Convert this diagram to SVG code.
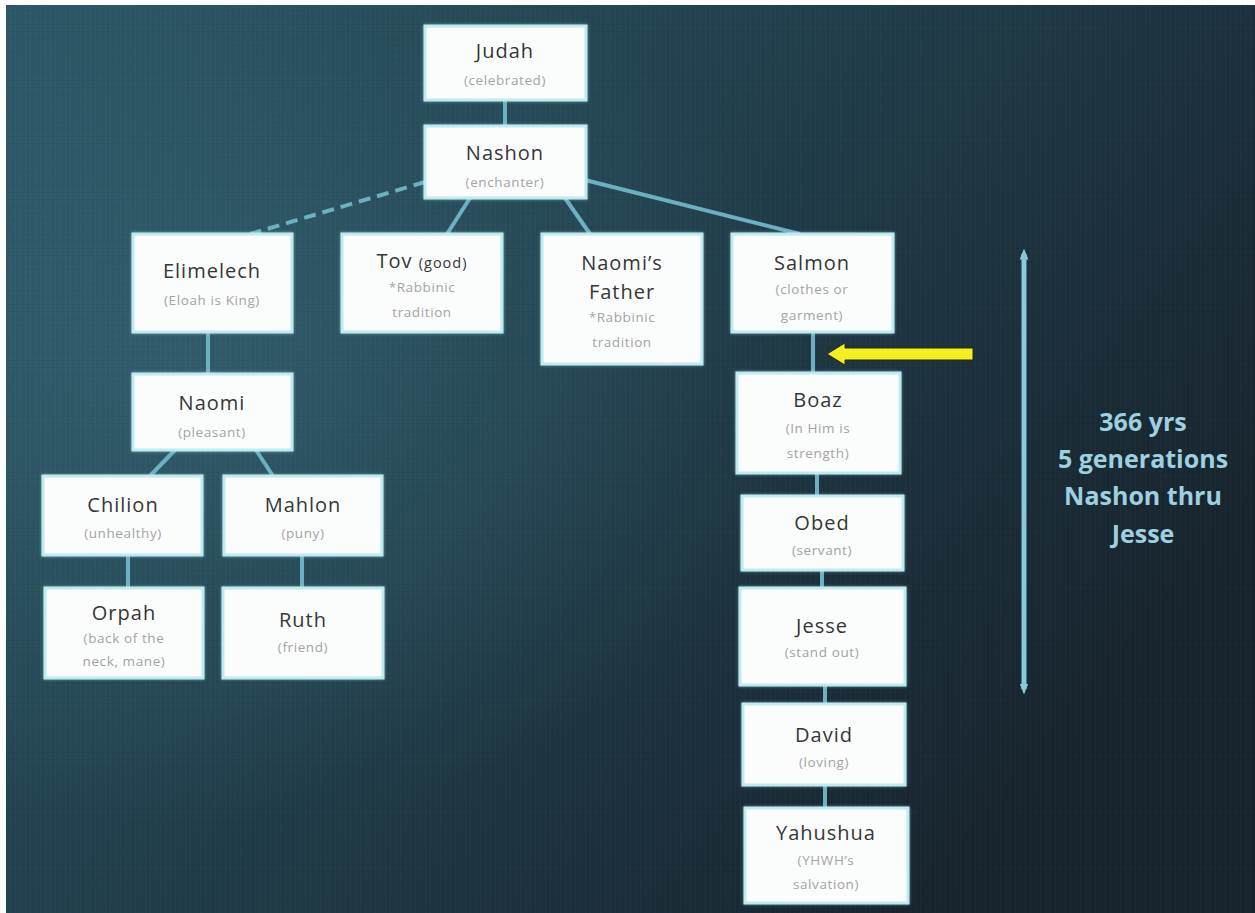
<svg xmlns="http://www.w3.org/2000/svg" width="1255" height="913" viewBox="0 0 1255 913">
  <defs>
    <linearGradient id="bg" x1="0" y1="0" x2="1" y2="0.6">
      <stop offset="0" stop-color="#2b5564"/>
      <stop offset="0.45" stop-color="#22414e"/>
      <stop offset="1" stop-color="#17232d"/>
    </linearGradient>
    <radialGradient id="glowbg" cx="0.15" cy="0.4" r="0.5">
      <stop offset="0" stop-color="#3f7283" stop-opacity="0.45"/>
      <stop offset="1" stop-color="#3f7283" stop-opacity="0"/>
    </radialGradient>
    <pattern id="tex" width="5" height="7" patternUnits="userSpaceOnUse">
      <rect x="0" y="0" width="1" height="7" fill="#ffffff" opacity="0.025"/>
      <rect x="0" y="3" width="5" height="1" fill="#000000" opacity="0.04"/>
    </pattern>
    <filter id="glow" x="-10%" y="-10%" width="120%" height="120%">
      <feGaussianBlur in="SourceAlpha" stdDeviation="1.8" result="b"/>
      <feFlood flood-color="#9fe3ee" flood-opacity="0.55"/>
      <feComposite in2="b" operator="in" result="g"/>
      <feMerge><feMergeNode in="g"/><feMergeNode in="SourceGraphic"/></feMerge>
    </filter>
    <marker id="dbl" viewBox="0 0 10 10" refX="5" refY="5" markerWidth="2.2" markerHeight="2.2" orient="auto-start-reverse">
      <path d="M0,1 L10,5 L0,9 Z" fill="#8cc8dc"/>
    </marker>
    <style>
      .box { fill: #fbfdfd; stroke: #bfeaf0; stroke-width: 3; filter: url(#glow); }
      .t { font-family: "Open Sans", "Liberation Sans", sans-serif; font-size: 20px; fill: #363636; text-anchor: middle; letter-spacing: 1px; }
      .s { font-family: "Open Sans", "Liberation Sans", sans-serif; font-size: 13.5px; fill: #a3a3a3; text-anchor: middle; letter-spacing: 0.6px; }
      .c { stroke: #6cb0c2; stroke-width: 4; fill: none; }
      .note { font-family: "Open Sans", "Liberation Sans", sans-serif; font-size: 25px; font-weight: bold; fill: #9fd0e0; text-anchor: middle; }
    </style>
  </defs>

  <rect x="0" y="0" width="1255" height="913" fill="#ffffff"/>
  <rect x="6" y="5" width="1249" height="908" fill="url(#bg)"/>
  <rect x="6" y="5" width="1249" height="908" fill="url(#glowbg)"/>
  <rect x="6" y="5" width="1249" height="908" fill="url(#tex)"/>

  <g id="connectors">
    <line class="c" x1="505" y1="100" x2="505" y2="126"/>
    <line class="c" x1="425" y1="182" x2="250" y2="234" stroke-dasharray="12 7"/>
    <line class="c" x1="470" y1="198" x2="447" y2="234"/>
    <line class="c" x1="565" y1="198" x2="590" y2="234"/>
    <line class="c" x1="585" y1="180" x2="800" y2="234"/>
    <line class="c" x1="208" y1="332" x2="208" y2="374"/>
    <line class="c" x1="175" y1="450" x2="150" y2="476"/>
    <line class="c" x1="256" y1="450" x2="273" y2="476"/>
    <line class="c" x1="128" y1="555" x2="128" y2="588"/>
    <line class="c" x1="302" y1="555" x2="302" y2="588"/>
    <line class="c" x1="813" y1="332" x2="813" y2="373"/>
    <line class="c" x1="817" y1="473" x2="817" y2="496"/>
    <line class="c" x1="822" y1="570" x2="822" y2="588"/>
    <line class="c" x1="825" y1="685" x2="825" y2="704"/>
    <line class="c" x1="825" y1="785" x2="825" y2="808"/>
    <line x1="1024" y1="254" x2="1024" y2="689" stroke="#8cc8dc" stroke-width="5" marker-start="url(#dbl)" marker-end="url(#dbl)"/>
    <g id="yellow-arrow">
      <path d="M973,348 L845,348 L845,343 L827,354 L845,365 L845,360 L973,360 Z" fill="#f4f020" stroke="#2a2a10" stroke-width="1"/>
    </g>
  </g>

  <g id="judah">
    <rect class="box" x="425" y="26" width="161" height="74"/>
    <text class="t" x="505" y="58">Judah</text>
    <text class="s" x="505" y="85">(celebrated)</text>
  </g>
  <g id="nashon">
    <rect class="box" x="425" y="126" width="161" height="72"/>
    <text class="t" x="505" y="160">Nashon</text>
    <text class="s" x="505" y="187">(enchanter)</text>
  </g>
  <g id="elimelech">
    <rect class="box" x="133" y="234" width="159" height="98"/>
    <text class="t" x="212" y="278">Elimelech</text>
    <text class="s" x="212" y="305">(Eloah is King)</text>
  </g>
  <g id="tov">
    <rect class="box" x="342" y="234" width="160" height="98"/>
    <text class="t" x="422" y="268">Tov <tspan style="font-size:14.5px">(good)</tspan></text>
    <text class="s" x="422" y="292">*Rabbinic</text>
    <text class="s" x="422" y="317">tradition</text>
  </g>
  <g id="naomis-father">
    <rect class="box" x="542" y="234" width="160" height="130"/>
    <text class="t" x="622" y="270">Naomi’s</text>
    <text class="t" x="622" y="299">Father</text>
    <text class="s" x="622" y="322">*Rabbinic</text>
    <text class="s" x="622" y="347">tradition</text>
  </g>
  <g id="salmon">
    <rect class="box" x="732" y="234" width="161" height="98"/>
    <text class="t" x="812" y="270">Salmon</text>
    <text class="s" x="812" y="294">(clothes or</text>
    <text class="s" x="812" y="320">garment)</text>
  </g>
  <g id="naomi">
    <rect class="box" x="133" y="374" width="159" height="76"/>
    <text class="t" x="212" y="410">Naomi</text>
    <text class="s" x="212" y="437">(pleasant)</text>
  </g>
  <g id="chilion">
    <rect class="box" x="43" y="476" width="159" height="79"/>
    <text class="t" x="123" y="512">Chilion</text>
    <text class="s" x="123" y="538">(unhealthy)</text>
  </g>
  <g id="mahlon">
    <rect class="box" x="224" y="476" width="158" height="79"/>
    <text class="t" x="303" y="512">Mahlon</text>
    <text class="s" x="303" y="538">(puny)</text>
  </g>
  <g id="orpah">
    <rect class="box" x="45" y="588" width="158" height="90"/>
    <text class="t" x="124" y="620">Orpah</text>
    <text class="s" x="124" y="643">(back of the</text>
    <text class="s" x="124" y="666">neck, mane)</text>
  </g>
  <g id="ruth">
    <rect class="box" x="223" y="588" width="160" height="90"/>
    <text class="t" x="303" y="627">Ruth</text>
    <text class="s" x="303" y="652">(friend)</text>
  </g>
  <g id="boaz">
    <rect class="box" x="737" y="373" width="163" height="100"/>
    <text class="t" x="818" y="407">Boaz</text>
    <text class="s" x="818" y="433">(In Him is</text>
    <text class="s" x="818" y="458">strength)</text>
  </g>
  <g id="obed">
    <rect class="box" x="742" y="496" width="161" height="74"/>
    <text class="t" x="822" y="530">Obed</text>
    <text class="s" x="822" y="555">(servant)</text>
  </g>
  <g id="jesse">
    <rect class="box" x="740" y="588" width="165" height="97"/>
    <text class="t" x="822" y="633">Jesse</text>
    <text class="s" x="822" y="657">(stand out)</text>
  </g>
  <g id="david">
    <rect class="box" x="743" y="704" width="162" height="81"/>
    <text class="t" x="824" y="742">David</text>
    <text class="s" x="824" y="767">(loving)</text>
  </g>
  <g id="yahushua">
    <rect class="box" x="745" y="808" width="163" height="95"/>
    <text class="t" x="826" y="840">Yahushua</text>
    <text class="s" x="826" y="865">(YHWH’s</text>
    <text class="s" x="826" y="889">salvation)</text>
  </g>

  <g id="note">
    <text class="note" x="1143" y="431">366 yrs</text>
    <text class="note" x="1143" y="468">5 generations</text>
    <text class="note" x="1143" y="505">Nashon thru</text>
    <text class="note" x="1143" y="543">Jesse</text>
  </g>
</svg>
